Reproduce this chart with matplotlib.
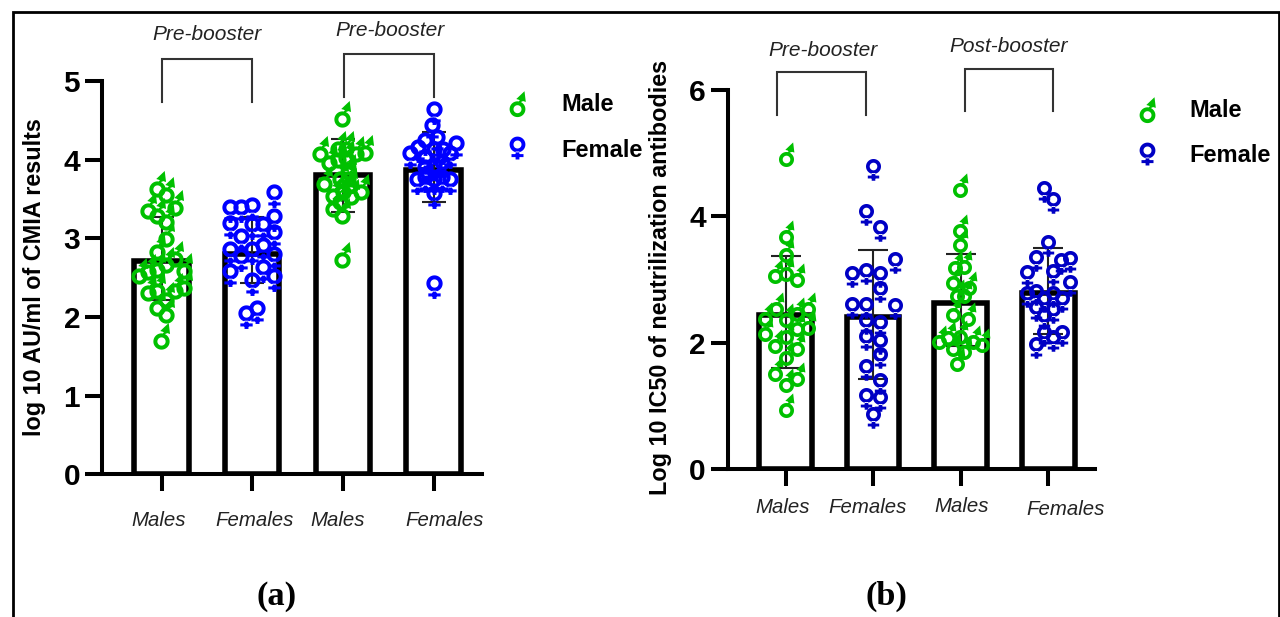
import numpy as np
import matplotlib
matplotlib.use("Agg")
import matplotlib.pyplot as plt
from matplotlib.path import Path
from matplotlib.lines import Line2D
from matplotlib.transforms import Affine2D, ScaledTranslation

W, H = 1280, 617
DPI = 100
plt.rcParams["font.family"] = ["Liberation Sans", "DejaVu Sans"]

GREEN = "#00c000"
BLUE_A = "#0000ff"
BLUE_B = "#0000c4"

categories = ["Males", "Females", "Males", "Females"]

# Panel (a): log10 AU/ml of CMIA results
a_means = [2.71, 2.80, 3.80, 3.87]
a_upper = [3.27, 3.27, 4.26, 4.35]
a_lower = [2.22, 2.43, 3.34, 3.46]
a1_dx = [-0.04, 0.055, 0.154, -0.14, -0.04, 0.055, 0.055, -0.04, 0.055, 0.154, -0.24, -0.14, -0.04, 0.254, 0.254, 0.154, 0.055, -0.04, -0.14, -0.04, 0.055, 0.0]
a1_v = [3.63, 3.55, 3.38, 3.35, 3.29, 3.21, 2.99, 2.83, 2.66, 2.74, 2.52, 2.57, 2.60, 2.59, 2.37, 2.33, 2.22, 2.33, 2.31, 2.11, 2.03, 1.69]
a2_dx = [0.246, -0.24, -0.12, 0.0, 0.246, -0.24, 0.0, 0.125, 0.246, -0.12, 0.125, -0.24, 0.0, 0.246, -0.12, 0.125, -0.24, 0.246, 0.0, 0.06, -0.06]
a2_v = [3.59, 3.40, 3.40, 3.42, 3.28, 3.19, 3.18, 3.18, 3.08, 3.03, 2.92, 2.86, 2.87, 2.80, 2.77, 2.63, 2.59, 2.52, 2.47, 2.12, 2.05]
a3_dx = [-0.007, -0.007, -0.246, 0.254, -0.05, 0.04, 0.15, -0.15, -0.05, 0.04, 0.06, -0.2, -0.03, 0.077, 0.206, -0.107, 0.004, 0.095, -0.107, -0.007, -0.03, 0.06]
a3_v = [4.52, 2.72, 4.07, 4.08, 4.14, 4.14, 4.07, 3.96, 3.99, 4.02, 3.84, 3.69, 3.76, 3.67, 3.59, 3.54, 3.59, 3.53, 3.37, 3.28, 3.46, 3.76]
a4_dx = [0.004, 0.004, -0.015, 0.254, -0.254, -0.162, -0.088, 0.04, -0.088, 0.004, 0.114, 0.187, -0.18, 0.187, -0.088, 0.004, 0.096, 0.004, 0.004, 0.096, -0.088]
a4_v = [4.65, 2.43, 4.44, 4.21, 4.08, 4.16, 4.25, 4.29, 4.04, 4.14, 4.14, 4.08, 3.76, 3.76, 3.78, 3.76, 3.78, 3.57, 3.93, 3.97, 3.91]

# Panel (b): log10 IC50 of neutralisation antibodies
b_means = [2.44, 2.41, 2.63, 2.78]
b_upper = [3.37, 3.47, 3.40, 3.50]
b_lower = [1.60, 1.43, 1.95, 2.13]
b1_dx = [-0.011, -0.011, -0.011, -0.136, -0.011, 0.11, -0.13, 0.11, 0.235, -0.25, -0.25, -0.011, 0.11, 0.235, -0.136, -0.011, 0.11, -0.011, -0.136, 0.11, -0.011, -0.011]
b1_v = [4.90, 3.68, 3.39, 3.06, 3.09, 2.99, 2.54, 2.46, 2.54, 2.37, 2.14, 2.36, 2.22, 2.24, 1.94, 2.09, 1.90, 1.75, 1.50, 1.43, 1.33, 0.94]
b2_dx = [-0.019, -0.102, 0.06, 0.227, -0.265, -0.102, 0.06, 0.06, -0.265, -0.102, 0.227, -0.102, 0.06, -0.102, 0.06, 0.06, -0.102, 0.06, -0.102, 0.06, -0.019]
b2_v = [4.80, 4.08, 3.83, 3.32, 3.10, 3.15, 3.11, 2.86, 2.61, 2.62, 2.59, 2.36, 2.33, 2.11, 2.04, 1.82, 1.63, 1.41, 1.17, 1.14, 0.87]
b3_dx = [-0.026, -0.026, -0.026, -0.08, 0.023, -0.11, 0.072, -0.06, 0.023, -0.11, 0.068, -0.27, -0.167, -0.026, 0.117, 0.224, -0.11, 0.023, -0.06]
b3_v = [4.41, 3.77, 3.54, 3.18, 3.19, 2.95, 2.86, 2.74, 2.74, 2.44, 2.38, 2.01, 2.07, 2.09, 2.01, 1.97, 1.90, 1.86, 1.66]
b4_dx = [-0.068, 0.038, -0.019, -0.163, 0.12, 0.227, -0.265, 0.03, 0.227, -0.265, -0.163, 0.03, -0.068, 0.133, -0.163, 0.03, -0.068, 0.133, -0.068, 0.03, -0.163]
b4_v = [4.45, 4.27, 3.60, 3.36, 3.31, 3.34, 3.12, 3.13, 2.96, 2.78, 2.82, 2.78, 2.70, 2.70, 2.57, 2.53, 2.44, 2.17, 2.17, 2.09, 1.98]


def ring(r_out, r_in):
    t = np.linspace(0, 2 * np.pi, 48)
    outer = np.c_[r_out * np.cos(t), r_out * np.sin(t)]
    inner = np.c_[r_in * np.cos(t[::-1]), r_in * np.sin(t[::-1])]
    return [outer, inner]


def build(polys, dy=0.0):
    verts, codes = [], []
    for p in polys:
        p = np.asarray(p, float) + [0, dy]
        verts.append(p)
        codes += [Path.MOVETO] + [Path.LINETO] * (len(p) - 1)
    return Path(np.vstack(verts), codes)


def male_path(dy=0.0):
    stem = [(1.4, 7.0), (4.9, 7.6), (5.9, 10.5), (2.7, 10.5)]
    head = [(7.0, 18.0), (-1.2, 10.2), (8.3, 7.3), (7.0, 18.0)]
    return build(ring(7.9, 4.0) + [stem, head], dy)


def female_path(dy=0.0):
    stem = [(-1.9, -7.0), (1.9, -7.0), (1.9, -15.0), (-1.9, -15.0)]
    bar = [(-6.0, -9.6), (6.0, -9.6), (6.0, -12.6), (-6.0, -12.6)]
    return build(ring(7.9, 4.0) + [stem, bar], dy)


def marker_size_pt(path, scale=1.0):
    # custom markers are normalised on their largest coordinate
    return 2 * np.abs(path.vertices).max() * 72 / DPI * scale


fig = plt.figure(figsize=(W / DPI, H / DPI), dpi=DPI, facecolor="white")
px = Affine2D().scale(1, -1).translate(0, H)  # reference pixels -> display


def make_axes(left, right, top, bottom):
    return fig.add_axes([left / W, 1 - bottom / H, (right - left) / W, (bottom - top) / H])


def panel(box, ylim, yticks, centre0, step, means, upper, lower, groups, shift, blue, scale,
          ylabel, ylab_xy, ylab_size, tick_off, capsize):
    left, right, top, bottom = box
    ax = make_axes(*box)
    ax.set_xlim((left - centre0) / step, (right - centre0) / step)
    ax.set_ylim(*ylim)
    ax.patch.set_alpha(0)
    pos = np.arange(4)
    ax.bar(pos, means, width=0.6, facecolor="none", edgecolor="black", linewidth=4.0, zorder=2)
    ax.errorbar(pos, means,
                yerr=[np.array(means) - np.array(lower), np.array(upper) - np.array(means)],
                fmt="none", ecolor="#222222", elinewidth=1.5, capsize=capsize, capthick=1.5, zorder=3)
    mp, fp = male_path(), female_path()
    for i, (dx, v) in enumerate(groups):
        path, col = (mp, GREEN) if i % 2 == 0 else (fp, blue)
        ax.scatter(i + np.array(dx) + shift, v, marker=path,
                   s=marker_size_pt(path, scale) ** 2, color=col, linewidths=0, zorder=4, clip_on=False)
    for s in ("top", "right"):
        ax.spines[s].set_visible(False)
    for s in ("left", "bottom"):
        ax.spines[s].set_linewidth(2.9)
        ax.spines[s].set_capstyle("projecting")
    ax.set_yticks(yticks)
    ax.set_xticks(pos)
    ax.set_xticklabels(categories)
    ax.tick_params(axis="y", length=12.2, width=2.9, pad=3.5, labelsize=21.5)
    ax.tick_params(axis="x", length=12.2, width=2.9, pad=14)
    for t in ax.get_yticklabels():
        t.set_fontweight("bold")
    for t, (ox, oy) in zip(ax.get_xticklabels(), tick_off):
        t.set_fontstyle("italic")
        t.set_fontsize(14.7)
        t.set_color("#222222")
        t.set_transform(t.get_transform() + ScaledTranslation(ox / DPI, -oy / DPI, fig.dpi_scale_trans))
    ax.set_ylabel(ylabel, fontweight="bold", fontsize=ylab_size)
    ax.yaxis.set_label_coords((ylab_xy[0] - left) / (right - left), (bottom - ylab_xy[1]) / (bottom - top))
    return ax


def bracket(x0, x1, ytop, ybot, label, lx, ly):
    fig.add_artist(Line2D([x0, x0, x1, x1], [ybot, ytop, ytop, ybot], color="#333333", lw=1.5,
                          solid_joinstyle="miter", transform=px))
    fig.text(lx / W, 1 - ly / H, label, style="italic", fontsize=15, color="#222222", ha="center", va="center")


def legend(ax, mx, ycentre, blue, textpad):
    mp, fp = male_path(-5.7), female_path(4.0)
    handles = [
        Line2D([], [], linestyle="none", marker=mp, color=GREEN, markeredgewidth=0,
               markersize=marker_size_pt(mp)),
        Line2D([], [], linestyle="none", marker=fp, color=blue, markeredgewidth=0,
               markersize=marker_size_pt(fp)),
    ]
    ax.legend(handles, ["Male", "Female"], loc="center left", frameon=False,
              bbox_to_anchor=((mx - 11.8) / W, 1 - ycentre / H), bbox_transform=fig.transFigure,
              borderpad=0, borderaxespad=0, handlelength=1.0, handletextpad=textpad, labelspacing=0.95,
              prop={"family": "Liberation Sans", "weight": "bold", "size": 17}, numpoints=1)


ax_a = panel((102, 482, 81, 474.3), (0, 5), [0, 1, 2, 3, 4, 5], 161.5, 90.7,
             a_means, a_upper, a_lower,
             [(a1_dx, a1_v), (a2_dx, a2_v), (a3_dx, a3_v), (a4_dx, a4_v)],
             -0.005, BLUE_A, 1.03,
             "log 10 AU/ml of CMIA results", (46, 277), 16.8,
             [(-3, 0), (2, 0), (-5, 0), (11, 0)], 8.5)
legend(ax_a, 517, 127.5, BLUE_A, 1.40)

ax_b = panel((727.7, 1095, 90, 469), (0, 6), [0, 2, 4, 6], 785.5, 87.6,
             b_means, b_upper, b_lower,
             [(b1_dx, b1_v), (b2_dx, b2_v), (b3_dx, b3_v), (b4_dx, b4_v)],
             0.02, BLUE_B, 0.95,
             "Log 10 IC50 of neutrilization antibodies", (672, 277.5), 16.85,
             [(-3, -7), (-6, -7), (1, -8), (17, -5)], 10.5)
legend(ax_b, 1147, 133, BLUE_B, 1.30)

bracket(161.7, 251.7, 59, 101.7, "Pre-booster", 207, 34)
bracket(344, 434, 54, 97, "Pre-booster", 390, 31)
bracket(777, 866, 72, 115, "Pre-booster", 823, 50)
bracket(965, 1052.7, 69, 111, "Post-booster", 1009, 46)

for label, x in (("(a)", 277), ("(b)", 886)):
    fig.text(x / W, 1 - 596 / H, label, family="Liberation Serif", weight="bold", fontsize=24.7,
             ha="center", va="center", color="black")

fig.add_artist(Line2D([13, 13, 1278.5, 1278.5], [617, 11.5, 11.5, 617], color="black", lw=2.0,
                      solid_joinstyle="miter", transform=px))

fig.savefig("out.png", dpi=DPI, facecolor="white")
